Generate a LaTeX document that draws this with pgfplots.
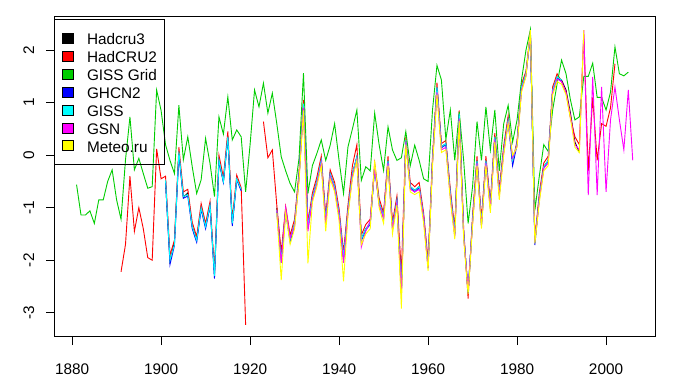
\documentclass[border=0pt]{standalone}
\usepackage{fontspec}
\setmainfont{Liberation Sans}
\usepackage{pgfplots}
\pgfplotsset{compat=1.18}
\usepackage{pgfplotstable}
\definecolor{rgreen}{RGB}{0,205,0}
\definecolor{rblue}{RGB}{0,0,255}
\definecolor{rcyan}{RGB}{0,255,255}
\definecolor{rmag}{RGB}{255,0,255}
\definecolor{ryel}{RGB}{255,255,0}
\definecolor{rred}{RGB}{255,0,0}

% yr  Hadcru3  HadCRU2  GISSGrid  GHCN2  GISS  GSN  Meteo
\pgfplotstableread{
yr h3 h2 gg gh gi gsn met
1881 nan nan -0.56 nan nan nan nan
1882 nan nan -1.14 nan nan nan nan
1883 nan nan -1.14 nan nan nan nan
1884 nan nan -1.06 nan nan nan nan
1885 nan nan -1.30 nan nan nan nan
1886 nan nan -0.85 nan nan nan nan
1887 nan nan -0.85 nan nan nan nan
1888 nan nan -0.50 nan nan nan nan
1889 nan nan -0.28 nan nan nan nan
1890 nan nan -0.85 nan nan nan nan
1891 nan -2.22 -1.22 nan nan nan nan
1892 nan -1.70 -0.09 nan nan nan nan
1893 nan -0.40 0.73 nan nan nan nan
1894 nan -1.45 -0.28 nan nan nan nan
1895 nan -1.00 -0.06 nan nan nan nan
1896 nan -1.40 -0.35 nan nan nan nan
1897 nan -1.95 -0.63 nan nan nan nan
1898 nan -2.00 -0.60 nan nan nan nan
1899 nan 0.12 1.24 nan nan nan nan
1900 nan -0.45 0.85 nan nan nan nan
1901 -0.50 -0.40 0.20 -0.50 -0.48 nan nan
1902 -2.02 -1.90 -0.10 -2.08 -2.00 nan nan
1903 -1.65 -1.62 -0.35 -1.72 -1.70 nan nan
1904 0.05 0.15 0.95 0.02 0.07 nan nan
1905 -0.80 -0.70 -0.09 -0.82 -0.79 nan nan
1906 -0.72 -0.65 0.35 -0.78 -0.75 nan nan
1907 -1.36 -1.28 -0.22 -1.40 -1.36 nan nan
1908 -1.60 -1.55 -0.73 -1.66 -1.62 nan nan
1909 -1.00 -0.92 -0.47 -1.03 -1.00 nan nan
1910 -1.36 -1.30 0.32 -1.40 -1.36 nan nan
1911 -0.95 -0.88 -0.16 -0.97 -0.95 nan nan
1912 -2.28 -2.20 -0.79 -2.35 -2.30 nan nan
1913 -0.10 0.00 0.73 -0.12 -0.09 nan nan
1914 -0.50 -0.42 0.40 -0.52 -0.50 nan nan
1915 0.35 0.45 1.11 0.33 0.35 nan nan
1916 -1.30 -1.22 0.29 -1.35 -1.30 nan nan
1917 -0.45 -0.38 0.48 -0.47 -0.45 nan nan
1918 -0.65 -0.62 0.35 -0.68 -0.65 nan nan
1919 nan -3.23 -0.70 nan nan nan nan
1920 nan nan 0.20 nan nan nan nan
1921 nan nan 1.24 nan nan nan nan
1922 nan nan 0.92 nan nan nan nan
1923 nan 0.64 1.37 nan nan nan nan
1924 nan -0.05 0.80 nan nan nan nan
1925 nan 0.10 1.18 nan nan nan nan
1926 -1.00 -0.95 0.60 -1.08 -1.05 -1.05 -1.10
1927 -1.95 -1.85 -0.03 -2.05 -2.00 -2.05 -2.38
1928 -1.05 -0.98 -0.30 -1.08 -1.05 -1.00 -1.10
1929 -1.60 -1.52 -0.54 -1.65 -1.60 -1.58 -1.70
1930 -1.30 -1.22 -0.70 -1.33 -1.30 -1.35 -1.40
1931 -0.40 -0.32 -0.06 -0.42 -0.40 -0.45 -0.50
1932 0.98 1.05 1.56 0.95 0.98 0.90 0.85
1933 -1.36 -1.28 -0.73 -1.40 -1.36 -1.45 -2.06
1934 -0.80 -0.72 -0.20 -0.82 -0.80 -0.85 -0.90
1935 -0.50 -0.42 0.03 -0.52 -0.50 -0.55 -0.60
1936 -0.10 -0.02 0.29 -0.12 -0.10 -0.15 -0.20
1937 -1.24 -1.15 -0.10 -1.27 -1.24 -1.30 -1.45
1938 -0.35 -0.28 0.19 -0.37 -0.35 -0.40 -0.45
1939 -0.60 -0.52 0.60 -0.62 -0.60 -0.65 -0.70
1940 -1.10 -1.02 -0.10 -1.13 -1.10 -1.15 -1.25
1941 -1.94 -1.85 -0.73 -2.00 -1.94 -2.05 -2.40
1942 -1.05 -0.95 0.16 -1.07 -1.05 -1.10 -1.15
1943 -0.35 -0.20 0.50 -0.37 -0.35 -0.40 -0.45
1944 -0.03 0.20 0.86 -0.05 -0.03 -0.08 -0.10
1945 -1.60 -1.52 -0.48 -1.63 -1.60 -1.75 -1.70
1946 -1.40 -1.32 -0.22 -1.42 -1.40 -1.45 -1.50
1947 -1.30 -1.22 -0.30 -1.32 -1.30 -1.25 -1.40
1948 -0.22 -0.15 0.80 -0.24 -0.22 -0.25 -0.10
1949 -0.90 -0.82 0.20 -0.92 -0.90 -0.95 -1.00
1950 -1.17 -1.10 -0.29 -1.20 -1.17 -1.20 -1.30
1951 -0.10 -0.02 0.54 -0.12 -0.10 -0.15 -0.20
1952 -1.36 -1.28 0.10 -1.40 -1.36 -1.40 -1.50
1953 -0.86 -0.78 -0.10 -0.88 -0.86 -0.90 -0.95
1954 -2.60 -2.25 -0.05 -2.65 -2.60 -2.65 -2.92
1955 0.25 0.35 0.45 0.25 0.29 0.25 0.20
1956 -0.60 -0.52 -0.20 -0.62 -0.60 -0.65 -0.70
1957 -0.67 -0.60 0.19 -0.70 -0.67 -0.70 -0.75
1958 -0.60 -0.52 -0.10 -0.62 -0.60 -0.65 -0.70
1959 -1.17 -1.10 -0.45 -1.20 -1.17 -1.20 -1.30
1960 -2.10 -2.00 -0.50 -2.15 -2.10 -2.15 -2.20
1961 -0.10 -0.02 0.86 -0.12 -0.10 -0.15 -0.20
1962 1.30 1.38 1.71 1.28 1.30 1.20 1.15
1963 0.16 0.22 1.43 0.14 0.16 0.10 0.05
1964 0.22 0.28 0.30 0.20 0.22 0.15 0.10
1965 -0.73 -0.65 0.86 -0.75 -0.73 -0.80 -0.85
1966 -1.49 -1.40 -0.10 -1.52 -1.49 -1.55 -1.60
1967 0.79 0.85 0.83 0.77 0.79 0.70 0.65
1968 -1.49 -1.40 -0.10 -1.52 -1.49 -1.55 -1.60
1969 -2.60 -2.73 -1.30 -2.63 -2.60 -2.55 -2.65
1970 -1.24 -1.15 -0.60 -1.27 -1.24 -1.30 -1.35
1971 -0.10 -0.02 0.64 -0.12 -0.10 -0.15 -0.20
1972 -1.30 -1.22 -0.10 -1.33 -1.30 -1.35 -1.40
1973 -0.10 -0.02 0.92 -0.12 -0.10 -0.15 -0.20
1974 -0.98 -0.90 0.10 -1.00 -0.98 -1.02 -1.10
1975 0.35 0.42 0.86 0.33 0.35 0.30 0.25
1976 -0.73 -0.65 -0.30 -0.75 -0.73 -0.78 -0.85
1977 0.10 0.18 0.60 0.08 0.10 0.05 0.00
1978 0.67 0.75 0.95 0.65 0.67 0.62 0.60
1979 -0.10 -0.15 0.25 -0.20 -0.10 -0.05 0.00
1980 0.22 0.28 0.67 0.20 0.22 0.18 0.15
1981 1.30 1.35 1.43 1.28 1.30 1.25 1.20
1982 1.55 1.60 2.00 1.53 1.55 1.50 1.50
1983 2.30 2.35 2.39 2.28 2.30 2.35 2.38
1984 -1.65 -1.60 -1.05 -1.71 -1.65 -1.65 -1.68
1985 -0.80 -0.72 -0.40 -0.82 -0.80 -0.85 -0.90
1986 -0.22 -0.15 0.20 -0.24 -0.22 -0.25 -0.30
1987 -0.10 -0.02 0.07 -0.12 -0.10 -0.15 -0.20
1988 1.24 1.30 0.86 1.22 1.24 1.20 1.15
1989 1.49 1.55 1.36 1.47 1.49 1.45 1.40
1990 1.43 1.40 1.81 1.41 1.43 1.40 1.35
1991 1.24 1.20 1.55 nan nan 1.20 1.15
1992 0.80 0.70 1.05 nan nan 0.75 0.70
1993 0.25 0.35 0.67 nan nan 0.20 0.15
1994 0.05 0.20 0.73 nan nan 0.10 0.05
1995 nan 2.30 1.50 nan nan 2.38 2.38
1996 nan -0.30 1.50 nan nan -0.76 nan
1997 nan 1.10 1.75 nan nan 1.49 nan
1998 nan -0.10 1.10 nan nan -0.76 nan
1999 nan 0.60 1.10 nan nan 1.30 nan
2000 nan 0.55 0.86 nan nan -0.70 nan
2001 nan 0.90 1.20 nan nan 0.67 nan
2002 nan 1.74 2.06 nan nan 1.30 nan
2003 nan nan 1.55 nan nan 0.67 nan
2004 nan nan 1.51 nan nan 0.10 nan
2005 nan nan 1.58 nan nan 1.24 nan
2006 nan nan nan nan nan -0.10 nan
}\tempdata

\begin{document}
\begin{tikzpicture}
\useasboundingbox (-54.3bp,-53.3bp) rectangle (618.7bp,336.7bp);
\begin{axis}[
  at={(0,0)}, anchor=south west,
  scale only axis, width=600.7bp, height=320bp,
  xmin=1876, xmax=2011, ymin=-3.456, ymax=2.636,
  axis line style={line width=0.8bp},
  xtick={1880,1900,1920,1940,1960,1980,2000},
  xticklabels={1880,1900,1920,1940,1960,1980,2000},
  ytick={-3,-2,-1,0,1,2},
  yticklabels={-3,-2,-1,0,1,2},
  xtick pos=bottom, ytick pos=left,
  tick align=outside, major tick length=8.3bp,
  every tick/.style={black, line width=0.8bp},
  tick label style={font=\fontsize{15.4}{17}\selectfont, inner sep=0pt},
  xticklabel style={anchor=base},
  xticklabel shift=29bp,
  yticklabel style={rotate=90, anchor=base},
  yticklabel shift=12bp,
  unbounded coords=jump,
  every axis plot/.append style={line width=0.9bp, mark=none},
  legend cell align=left,
  legend style={
    at={(0,1)}, anchor=north west, yshift=-2.6bp,
    draw=black, line width=0.8bp, fill=none,
    inner xsep=7.4bp, inner ysep=9.7bp, row sep=0pt,
    font=\fontsize{15.4}{17.9}\selectfont,
    nodes={inner sep=0pt, text height=15.3bp, text depth=2.6bp},
    /tikz/every odd column/.append style={column sep=13.3bp},
  },
]
\addplot[draw=black, forget plot] table[x=yr, y=h3] {\tempdata};
\addplot[draw=rred, forget plot] table[x=yr, y=h2] {\tempdata};
\addplot[draw=rgreen, forget plot] table[x=yr, y=gg] {\tempdata};
\addplot[draw=rblue, forget plot] table[x=yr, y=gh] {\tempdata};
\addplot[draw=rcyan, forget plot] table[x=yr, y=gi] {\tempdata};
\addplot[draw=rmag, forget plot] table[x=yr, y=gsn] {\tempdata};
\addplot[draw=ryel, forget plot] table[x=yr, y=met] {\tempdata};

\addlegendimage{legend image code/.code={\draw[draw=black, fill=black, line width=0.6bp] (0bp,-5bp) rectangle (11bp,5bp);}}
\addlegendentry{Hadcru3}
\addlegendimage{legend image code/.code={\draw[draw=black, fill=rred, line width=0.6bp] (0bp,-5bp) rectangle (11bp,5bp);}}
\addlegendentry{HadCRU2}
\addlegendimage{legend image code/.code={\draw[draw=black, fill=rgreen, line width=0.6bp] (0bp,-5bp) rectangle (11bp,5bp);}}
\addlegendentry{GISS Grid}
\addlegendimage{legend image code/.code={\draw[draw=black, fill=rblue, line width=0.6bp] (0bp,-5bp) rectangle (11bp,5bp);}}
\addlegendentry{GHCN2}
\addlegendimage{legend image code/.code={\draw[draw=black, fill=rcyan, line width=0.6bp] (0bp,-5bp) rectangle (11bp,5bp);}}
\addlegendentry{GISS}
\addlegendimage{legend image code/.code={\draw[draw=black, fill=rmag, line width=0.6bp] (0bp,-5bp) rectangle (11bp,5bp);}}
\addlegendentry{GSN}
\addlegendimage{legend image code/.code={\draw[draw=black, fill=ryel, line width=0.6bp] (0bp,-5bp) rectangle (11bp,5bp);}}
\addlegendentry{Meteo.ru}
\end{axis}
\end{tikzpicture}
\end{document}
